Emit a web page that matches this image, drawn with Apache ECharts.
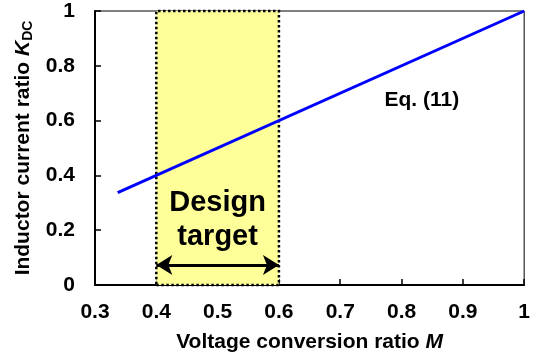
<!DOCTYPE html>
<html><head><meta charset="utf-8">
<script src="https://cdn.jsdelivr.net/npm/echarts@6/dist/echarts.min.js"></script>
<style>html,body{margin:0;padding:0;background:#fff}#c{width:533px;height:363px}</style>
</head><body><div id="c"></div>
<script>
var lineM = [0.337, 1];
var lineK = [0.337, 1];
var targetRange = [0.4, 0.6];
var arrowY = 0.073;
var xTicks = [0.3, 0.4, 0.5, 0.6, 0.7, 0.8, 0.9, 1];
var yTicks = [0, 0.2, 0.4, 0.6, 0.8, 1];
var designLabelPos = [0.5, 0.236];
var eqLabelPos = [0.833, 0.675];

var F = '"Liberation Sans", Arial, sans-serif';
var chart = echarts.init(document.getElementById('c'));
function fmt(v){ return (Math.round(v*10)/10).toString(); }
chart.setOption({
  animation: false,
  grid: {left: 95, right: 6, top: 11, bottom: 78, show: true, borderColor: '#000', borderWidth: 1},
  xAxis: {
    type: 'value', min: xTicks[0], max: xTicks[xTicks.length-1], interval: 0.1,
    name: '{n|Voltage conversion ratio }{i|M}', nameLocation: 'middle', nameGap: 47,
    nameTextStyle: {rich: {n: {fontFamily: F, fontWeight: 'bold', fontSize: 21, color: '#000'}, i: {fontFamily: F, fontWeight: 'bold', fontStyle: 'italic', fontSize: 21, color: '#000'}}},
    axisLine: {lineStyle: {color: '#000', width: 2}},
    axisTick: {inside: true, length: 6, lineStyle: {color: '#000', width: 1.5}},
    axisLabel: {formatter: fmt, fontFamily: F, fontWeight: 'bold', fontSize: 21, color: '#000', margin: 17},
    splitLine: {show: false}
  },
  yAxis: {
    type: 'value', min: yTicks[0], max: yTicks[yTicks.length-1], interval: 0.2,
    name: '{n|Inductor current ratio }{i|K}{s|DC}', nameLocation: 'middle', nameGap: 57, nameRotate: 90,
    nameTextStyle: {rich: {n: {fontFamily: F, fontWeight: 'bold', fontSize: 21, color: '#000'}, i: {fontFamily: F, fontWeight: 'bold', fontStyle: 'italic', fontSize: 21, color: '#000'}, s: {fontFamily: F, fontWeight: 'bold', fontSize: 14, color: '#000', verticalAlign: 'bottom', padding: [10,0,0,0]}}},
    axisLine: {lineStyle: {color: '#000', width: 2}},
    axisTick: {inside: true, length: 6, lineStyle: {color: '#000', width: 1.5}},
    axisLabel: {formatter: fmt, fontFamily: F, fontWeight: 'bold', fontSize: 21, color: '#000', margin: 20},
    splitLine: {show: false}
  },
  series: [
    {
      type: 'line', z: 1, symbol: 'none', silent: true,
      data: [],
      markArea: {
        silent: true,
        itemStyle: {color: '#FFFF99', borderColor: '#000', borderWidth: 2.5, borderType: [2.5, 2.5]},
        data: [[{coord: [targetRange[0], yTicks[0]]}, {coord: [targetRange[1], yTicks[yTicks.length-1]]}]]
      }
    },
    {
      type: 'line', z: 5, symbol: 'none', silent: true,
      data: lineM.map(function(m, i){ return [m, lineK[i]]; }),
      lineStyle: {color: '#0000FF', width: 3}
    },
    {
      type: 'line', z: 6, symbol: 'none', silent: true, data: [],
      markLine: {
        silent: true, symbol: ['arrow', 'arrow'], symbolSize: [15, 16],
        label: {show: false},
        lineStyle: {color: '#000', width: 3, type: 'solid'},
        data: [[{coord: [targetRange[0], arrowY]}, {coord: [targetRange[1], arrowY]}]]
      },
      markPoint: {
        silent: true, symbol: 'circle', symbolSize: 0,
        data: [
          {coord: designLabelPos, label: {show: true, formatter: 'Design\ntarget', fontFamily: F, fontWeight: 'bold', fontSize: 29, lineHeight: 34, color: '#000', position: 'inside', align: 'center', verticalAlign: 'middle'}},
          {coord: eqLabelPos, label: {show: true, formatter: 'Eq. (11)', fontFamily: F, fontWeight: 'bold', fontSize: 21, color: '#000', position: 'inside', align: 'center', verticalAlign: 'middle'}}
        ]
      }
    }
  ]
});
</script></body></html>
